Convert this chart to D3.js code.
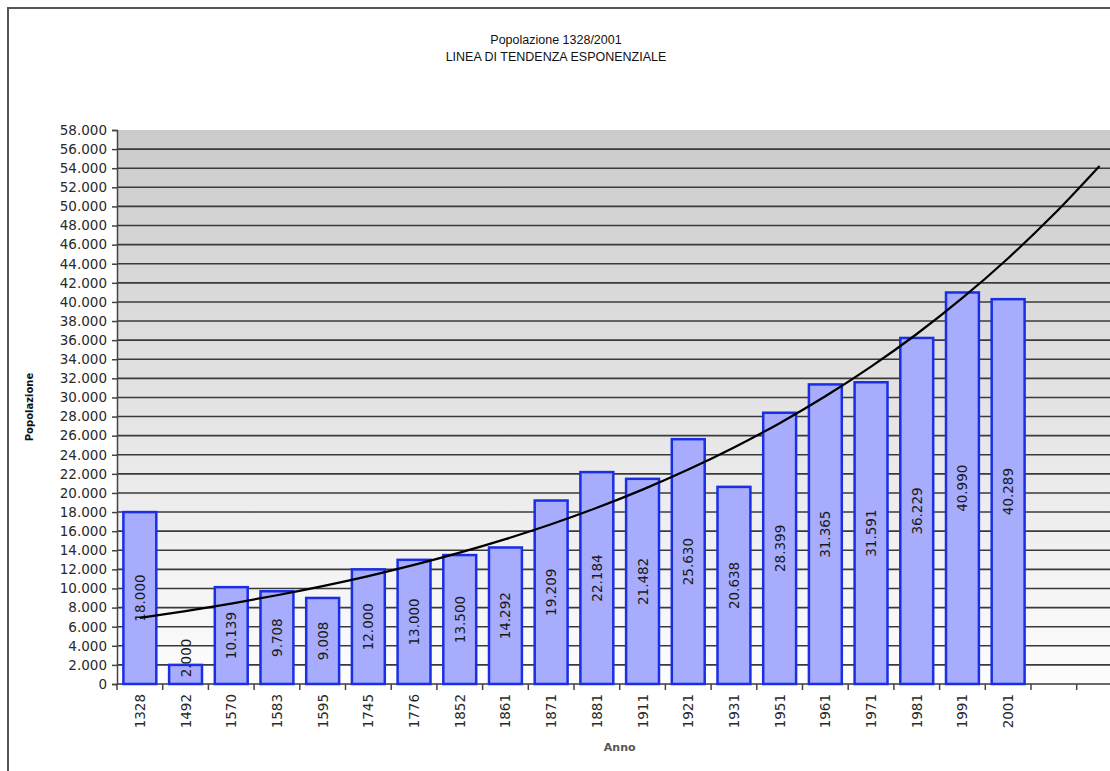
<!DOCTYPE html>
<html>
<head>
<meta charset="utf-8">
<script src="https://cdn.jsdelivr.net/npm/d3@7"></script>
<style>
  body { margin: 0; background: #fff; }
  svg { display: block; }
</style>
</head>
<body>
<div id="chart"></div>
<script>
const years = ["1328", "1492", "1570", "1583", "1595", "1745", "1776", "1852", "1861", "1871",
  "1881", "1911", "1921", "1931", "1951", "1961", "1971", "1981", "1991", "2001"];
const population = [18000, 2000, 10139, 9708, 9008, 12000, 13000, 13500, 14292, 19209,
  22184, 21482, 25630, 20638, 28399, 31365, 31591, 36229, 40990, 40289];
// two empty forecast slots for the trend line
const forecastSlots = ["", " "];
const yTicks = d3.range(0, 58001, 2000);
const titleLines = ["Popolazione 1328/2001", "LINEA DI TENDENZA ESPONENZIALE"];

const width = 1110;
const height = 771;
const plot = { left: 117, top: 130, bottom: 684, step: 45.7 };

const it = d3.formatLocale({ decimal: ",", thousands: ".", grouping: [3], currency: ["", "€"] });
const fmt = it.format(",d");

const slots = years.concat(forecastSlots);

const svg = d3.select("#chart").append("svg")
  .attr("width", width)
  .attr("height", height);

const x = d3.scaleBand()
  .domain(slots)
  .range([plot.left, plot.left + slots.length * plot.step])
  .paddingInner(0.28)
  .paddingOuter(0.14);

const y = d3.scaleLinear()
  .domain([0, 58000])
  .range([plot.bottom, plot.top]);

// outer frame
svg.append("rect")
  .attr("x", 8).attr("y", 8)
  .attr("width", width + 20).attr("height", height + 20)
  .attr("fill", "none")
  .attr("stroke", "#555")
  .attr("stroke-width", 2);

// title
svg.append("g")
  .selectAll("text")
  .data(titleLines)
  .join("text")
  .attr("x", 556)
  .attr("y", (d, i) => 44 + i * 17)
  .attr("text-anchor", "middle")
  .style("font-family", "Liberation Sans, Arial, sans-serif")
  .style("font-size", "12.5px")
  .attr("fill", "#111")
  .text((d) => d);

// gradient background
const grad = svg.append("defs").append("linearGradient")
  .attr("id", "bg")
  .attr("x1", 0).attr("y1", 0).attr("x2", 0).attr("y2", 1);
grad.append("stop").attr("offset", "0%").attr("stop-color", "#cbcbcb");
grad.append("stop").attr("offset", "100%").attr("stop-color", "#fdfdfd");

svg.append("rect")
  .attr("x", plot.left)
  .attr("y", y(58000))
  .attr("width", x.range()[1] - plot.left)
  .attr("height", y(0) - y(58000))
  .attr("fill", "url(#bg)");

// gridlines
svg.append("g")
  .selectAll("line")
  .data(yTicks.filter((d) => d < 58000))
  .join("line")
  .attr("x1", plot.left)
  .attr("x2", x.range()[1])
  .attr("y1", (d) => y(d))
  .attr("y2", (d) => y(d))
  .attr("stroke", "#3a3a3a")
  .attr("stroke-width", 1.6);

// y axis
const yAxis = d3.axisLeft(y)
  .tickValues(yTicks)
  .tickSize(5)
  .tickPadding(5)
  .tickFormat((d) => fmt(d));

const yAxisG = svg.append("g")
  .attr("transform", `translate(${plot.left},0)`)
  .call(yAxis);
yAxisG.select(".domain").attr("stroke", "#444").attr("stroke-width", 1.5);
yAxisG.selectAll(".tick line").attr("stroke", "#444").attr("stroke-width", 1.5);
yAxisG.selectAll(".tick text")
  .style("font-family", "DejaVu Sans, Verdana, sans-serif")
  .style("font-size", "13.5px")
  .attr("fill", "#2a2a2a");

// x ticks at slot boundaries
const step = x.step();
svg.append("g")
  .selectAll("line")
  .data(d3.range(slots.length + 1))
  .join("line")
  .attr("x1", (i) => plot.left + i * step)
  .attr("x2", (i) => plot.left + i * step)
  .attr("y1", plot.bottom)
  .attr("y2", plot.bottom + 6)
  .attr("stroke", "#444")
  .attr("stroke-width", 1.5);

// x labels
svg.append("g")
  .selectAll("text")
  .data(years)
  .join("text")
  .attr("transform", (d) => `translate(${x(d) + x.bandwidth() / 2 + 5},${plot.bottom + 10}) rotate(-90)`)
  .attr("text-anchor", "end")
  .style("font-family", "DejaVu Sans, Verdana, sans-serif")
  .style("font-size", "13.5px")
  .attr("fill", "#2a2a2a")
  .text((d) => d);

// bars
svg.append("g")
  .selectAll("rect")
  .data(years)
  .join("rect")
  .attr("x", (d) => x(d))
  .attr("y", (d, i) => y(population[i]))
  .attr("width", x.bandwidth())
  .attr("height", (d, i) => y(0) - y(population[i]))
  .attr("fill", "#a8acfd")
  .attr("stroke", "#1a2ee6")
  .attr("stroke-width", 2.5);

// value labels, centred in the bar; short bars keep the label above the axis
const labelHalf = 22;
svg.append("g")
  .selectAll("text")
  .data(years)
  .join("text")
  .attr("transform", (d, i) => {
    const cy = Math.min((y(population[i]) + y(0)) / 2, y(0) - labelHalf - 4);
    return `translate(${x(d) + x.bandwidth() / 2 + 5},${cy}) rotate(-90)`;
  })
  .attr("text-anchor", "middle")
  .style("font-family", "DejaVu Sans, Verdana, sans-serif")
  .style("font-size", "13.5px")
  .attr("fill", "#1a1a1a")
  .text((d, i) => fmt(population[i]));

// exponential trend line (least squares on ln values), extended over the forecast slots
const xs = population.map((d, i) => i + 1);
const lnY = population.map((d) => Math.log(d));
const mx = d3.mean(xs);
const my = d3.mean(lnY);
const b = d3.sum(xs, (v, i) => (v - mx) * (lnY[i] - my)) / d3.sum(xs, (v) => (v - mx) * (v - mx));
const a = Math.exp(my - b * mx);
const trend = slots.map((s, i) => ({ slot: s, value: a * Math.exp(b * (i + 1)) }));

svg.append("path")
  .datum(trend)
  .attr("fill", "none")
  .attr("stroke", "#000")
  .attr("stroke-width", 2.2)
  .attr("d", d3.line()
    .curve(d3.curveCatmullRom)
    .x((d) => x(d.slot) + x.bandwidth() / 2)
    .y((d) => y(d.value)));

// axis titles
svg.append("text")
  .attr("x", (plot.left + x.range()[1]) / 2)
  .attr("y", 751)
  .attr("text-anchor", "middle")
  .style("font-family", "DejaVu Sans, Verdana, sans-serif")
  .style("font-size", "11px")
  .style("font-weight", "bold")
  .attr("fill", "#555")
  .text("Anno");

svg.append("text")
  .attr("transform", `translate(33,${(plot.top + plot.bottom) / 2}) rotate(-90)`)
  .attr("text-anchor", "middle")
  .style("font-family", "DejaVu Sans, Verdana, sans-serif")
  .style("font-size", "10px")
  .style("font-weight", "bold")
  .attr("fill", "#111")
  .text("Popolazione");
</script>
</body>
</html>
